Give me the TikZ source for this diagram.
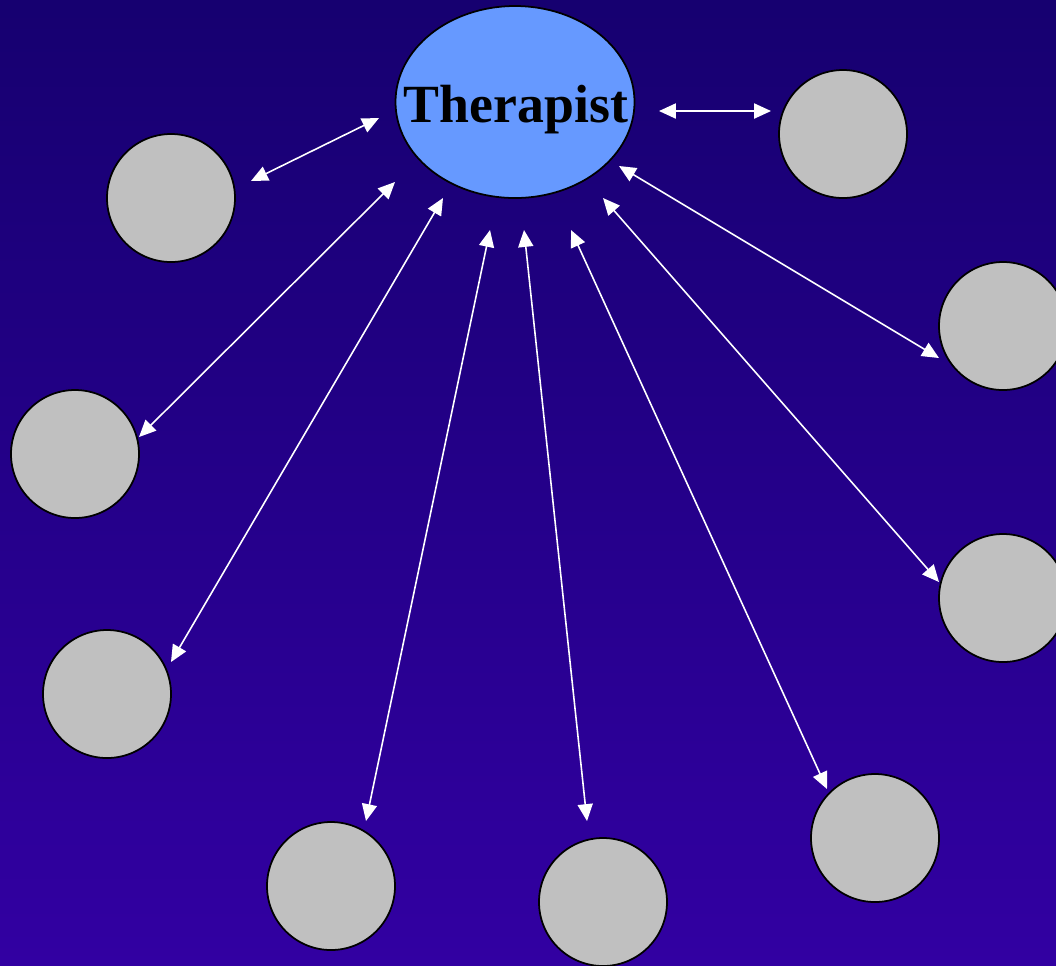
\documentclass[tikz,border=0pt]{standalone}
\usepackage{fontspec}
\setmainfont{Liberation Serif}
\usetikzlibrary{shapes.geometric,arrows.meta}
\definecolor{bgtop}{RGB}{22,0,112}
\definecolor{bgbottom}{RGB}{50,0,162}
\definecolor{therblue}{RGB}{102,153,255}
\definecolor{clientgray}{RGB}{192,192,192}
\tikzstyle{client}=[circle,draw=black,line width=0.5pt,fill=clientgray,minimum size=12.8mm,inner sep=0pt]
\tikzstyle{therapist}=[ellipse,draw=black,line width=0.5pt,fill=therblue,minimum width=23.9mm,minimum height=19.2mm,inner sep=0pt]
\tikzstyle{link}=[white,line width=0.45pt,line cap=round,{Triangle[length=4.8pt,width=4.3pt]}-{Triangle[length=4.8pt,width=4.3pt]}]

\begin{document}
\begin{tikzpicture}[x=0.1mm,y=-0.1mm]
% Therapist and clients
	\clip (0,0) rectangle (1056,965);
	\shade [top color=bgtop,bottom color=bgbottom] (0,0) rectangle (1056,965);
	\node [therapist] (ther) at (515,102) {};
	\node [anchor=base,font=\bfseries\fontsize{15.3}{18}\selectfont,inner sep=0pt] (thertext) at (516,122) {Therapist};
	\node [client] (client1) at (171,198) {};
	\node [client] (client2) at (843,134) {};
	\node [client] (client3) at (1003,326) {};
	\node [client] (client4) at (75,454) {};
	\node [client] (client5) at (107,694) {};
	\node [client] (client6) at (1003,598) {};
	\node [client] (client7) at (331,886) {};
	\node [client] (client8) at (603,902) {};
	\node [client] (client9) at (875,838) {};
	%% th* are the arrow ends next to the therapist, cl* the ends next to the clients
	\coordinate (th1) at (379,118);  \coordinate (cl1) at (251,181);
	\coordinate (th2) at (659,111);  \coordinate (cl2) at (771,111);
	\coordinate (th3) at (619,166);  \coordinate (cl3) at (939,358);
	\coordinate (th4) at (395,182);  \coordinate (cl4) at (139,437);
	\coordinate (th5) at (443,198);  \coordinate (cl5) at (171,662);
	\coordinate (th6) at (603,198);  \coordinate (cl6) at (939,582);
	\coordinate (th7) at (490,230);  \coordinate (cl7) at (366,821);
	\coordinate (th8) at (524,230);  \coordinate (cl8) at (587,821);
	\coordinate (th9) at (571,230);  \coordinate (cl9) at (827,789);
	\draw [link] (th1) -- (cl1);
	\draw [link] (th2) -- (cl2);
	\draw [link] (th3) -- (cl3);
	\draw [link] (th4) -- (cl4);
	\draw [link] (th5) -- (cl5);
	\draw [link] (th6) -- (cl6);
	\draw [link] (th7) -- (cl7);
	\draw [link] (th8) -- (cl8);
	\draw [link] (th9) -- (cl9);
\end{tikzpicture}
\end{document}
